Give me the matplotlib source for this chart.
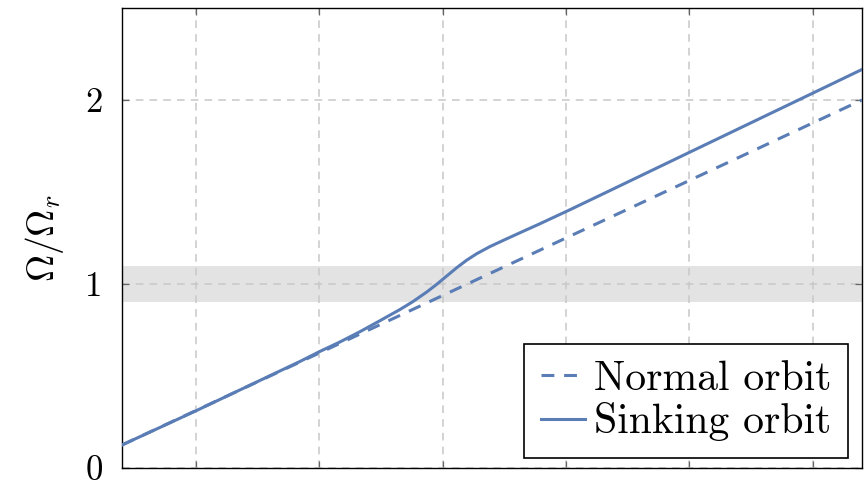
import matplotlib
matplotlib.use("Agg")
import matplotlib.pyplot as plt

plt.rcParams['mathtext.fontset'] = 'cm'
plt.rcParams['axes.formatter.use_mathtext'] = True

# data (x in grid units, y = Omega/Omega_r)
normal_x = [0.4, 6.4]
normal_y = [0.125, 2.0]

sink_x = [0.4, 1.0, 1.5, 1.84, 2.0, 2.17, 2.33, 2.49, 2.653, 2.758, 2.872, 2.953,
          3.034, 3.115, 3.196, 3.277, 3.382, 3.504, 3.625, 3.787, 4.03, 4.36,
          4.76, 5.17, 6.0, 6.4]
sink_y = [0.125, 0.311, 0.470, 0.578, 0.632, 0.686, 0.741, 0.800, 0.861, 0.904,
          0.957, 0.999, 1.044, 1.089, 1.130, 1.165, 1.203, 1.241, 1.278, 1.327,
          1.403, 1.509, 1.638, 1.770, 2.037, 2.166]

band_lo, band_hi = 0.9, 1.1
yticks = [0, 1, 2]
ytick_labels = ['0', '1', '2']
xticks = [1, 2, 3, 4, 5, 6]

color = '#5A7DB6'

fig = plt.figure(figsize=(8.67, 4.84), dpi=100)
ax = fig.add_axes([122/867, (484-468)/484, 740/867, 460/484])

ax.axhspan(band_lo, band_hi, color='#e3e3e3', lw=0, zorder=0)
ax.plot(normal_x, normal_y, color=color, lw=2.2, ls=(0, (4.2, 3.2)), label='Normal orbit', zorder=3)
ax.plot(sink_x, sink_y, color=color, lw=2.2, label='Sinking orbit', zorder=3,
        solid_joinstyle='round')

ax.set_xlim(0.4, 6.4)
ax.set_ylim(0, 2.5)
ax.set_xticks(xticks)
ax.set_xticklabels([])
ax.set_yticks(yticks)
ax.set_yticklabels(ytick_labels, fontfamily='cmr10', fontsize=25)
ax.grid(True, color='#c8c8c8', ls=(0, (5, 4)), lw=1.1, zorder=1)
ax.set_axisbelow(True)
ax.tick_params(direction='in', length=5, width=0.9, color='#666666',
               top=True, right=True, pad=14)
for s in ax.spines.values():
    s.set_linewidth(1.0)
    s.set_color('black')

ax.set_ylabel(r'$\Omega/\Omega_r$', fontsize=27, labelpad=14)

leg = ax.legend(loc='lower right', bbox_to_anchor=(0.981, 0.022),
                prop={'family': 'cmr10', 'size': 30}, frameon=True, fancybox=False,
                edgecolor='black', framealpha=1, handlelength=1.05, handletextpad=0.22,
                borderpad=0.4, labelspacing=0.1, borderaxespad=0)
leg.get_frame().set_linewidth(1.2)

fig.savefig('out.png', dpi=100)
